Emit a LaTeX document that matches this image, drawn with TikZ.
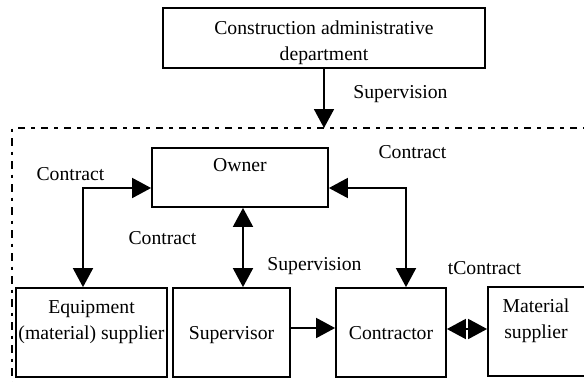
\documentclass[tikz,border=0pt]{standalone}
\usepackage{fontspec}
\setmainfont{Liberation Serif}
\usetikzlibrary{arrows.meta}
\tikzset{
  box/.style={draw, line width=1.8pt, inner sep=0pt},
  txt/.style={inner sep=0pt, align=center, font=\fontsize{19.7}{26}\selectfont},
  tip/.tip={Triangle[length=19pt,width=20pt]},
  conn/.style={line width=1.8pt, -tip},
  dconn/.style={line width=1.8pt, tip-tip},
  frame/.style={line width=1.8pt, dash pattern=on 7.5pt off 6pt on 3.5pt off 6pt}
}
\begin{document}
\begin{tikzpicture}[x=1pt,y=-1pt]
\useasboundingbox (0,0) rectangle (584,381);
\clip (0,0) rectangle (584,381);
% boxes
\node[box, minimum width=322pt, minimum height=60pt] (adm) at (324,38) {};
\node[box, minimum width=176pt, minimum height=59pt] (owner) at (240,177.5) {};
\node[box, minimum width=151pt, minimum height=89pt] (equip) at (91.5,332.5) {};
\node[box, minimum width=117pt, minimum height=89pt] (sup) at (231.5,332.5) {};
\node[box, minimum width=110pt, minimum height=89pt] (contr) at (391,332.5) {};
\node[box, minimum width=98pt, minimum height=89pt] (mat) at (537,331.5) {};
% box texts
\node[txt] (admt) at (324,42.9) {Construction administrative\\department};
\node[txt] (ownert) at (240,165.3) {Owner};
\node[txt] (equipt) at (91.5,322) {Equipment\\(material) supplier};
\node[txt] (supt) at (231.5,335.5) {Supervisor};
\node[txt] (contrt) at (391,333.3) {Contractor};
\node[txt] (matt) at (536,321) {Material\\supplier};
% dashed frame
\coordinate (fr) at (600,128);
\coordinate (ftl) at (12,128);
\coordinate (fbl) at (12,400);
\coordinate (ftop) at (324,128);
\draw[frame] (fr) -- (ftl) -- (fbl);
% connectors
\draw[conn] (adm) -- (ftop);
\draw[dconn] ([yshift=-10.5pt]owner.west) -| ([xshift=-8.5pt]equip.north);
\draw[dconn] ([yshift=-10.5pt]owner.east) -| ([xshift=15pt]contr.north);
\draw[dconn] ([xshift=3pt]owner.south) -- ([xshift=3pt]owner.south |- sup.north);
\draw[conn] ([yshift=4.5pt]sup.east) -- ([yshift=4.5pt]sup.east -| contr.west);
\draw[dconn] ([yshift=3.5pt]contr.east) -- ([yshift=3.5pt]contr.east -| mat.west);
% labels
\node[txt, anchor=base] (l1) at (400.5,98) {Supervision};
\node[txt, anchor=base] (l2) at (412.5,158) {Contract};
\node[txt, anchor=base] (l3) at (70.5,180) {Contract};
\node[txt, anchor=base] (l4) at (162.5,244) {Contract};
\node[txt, anchor=base] (l5) at (314.5,270) {Supervision};
\node[txt, anchor=base] (l6) at (484.5,274) {tContract};
\end{tikzpicture}
\end{document}
